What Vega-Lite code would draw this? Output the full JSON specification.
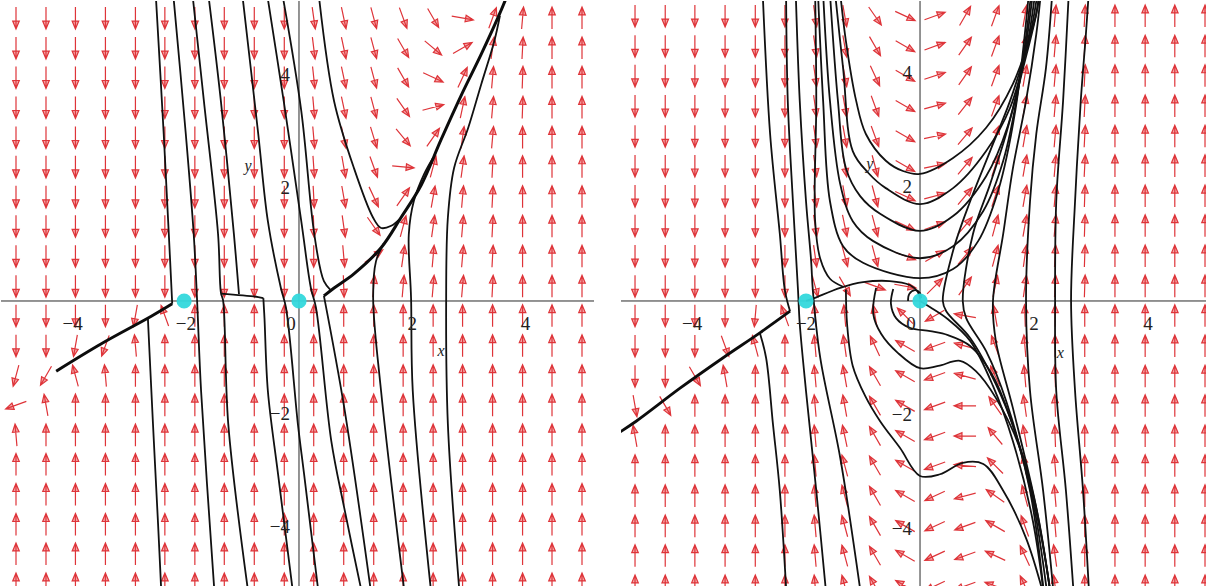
{
  "$schema": "https://vega.github.io/schema/vega-lite/v6.json",
  "padding": 0,
  "background": "white",
  "spacing": 25,
  "config": {"view": {"stroke": null}},
  "datasets": {
    "aL": [
      {"x":-5,"y":-5,"a":0},{"x":-5,"y":-4.47,"a":0},{"x":-5,"y":-3.95,"a":0},{"x":-5,"y":-3.42,"a":0},{"x":-5,"y":-2.89,"a":0},{"x":-5,"y":-2.37,"a":355},{"x":-5,"y":-1.84,"a":250},{"x":-5,"y":-1.32,"a":195},{"x":-5,"y":-0.79,"a":180},{"x":-5,"y":-0.26,"a":180},{"x":-5,"y":0.26,"a":180},{"x":-5,"y":0.79,"a":180},{"x":-5,"y":1.32,"a":180},{"x":-5,"y":1.84,"a":180},{"x":-5,"y":2.37,"a":180},{"x":-5,"y":2.89,"a":180},{"x":-5,"y":3.42,"a":180},{"x":-5,"y":3.95,"a":180},{"x":-5,"y":4.47,"a":180},{"x":-5,"y":5,"a":180},
      {"x":-4.47,"y":-5,"a":0},{"x":-4.47,"y":-4.47,"a":0},{"x":-4.47,"y":-3.95,"a":0},{"x":-4.47,"y":-3.42,"a":0},{"x":-4.47,"y":-2.89,"a":0},{"x":-4.47,"y":-2.37,"a":0},{"x":-4.47,"y":-1.84,"a":350},{"x":-4.47,"y":-1.32,"a":210},{"x":-4.47,"y":-0.79,"a":180},{"x":-4.47,"y":-0.26,"a":180},{"x":-4.47,"y":0.26,"a":180},{"x":-4.47,"y":0.79,"a":180},{"x":-4.47,"y":1.32,"a":180},{"x":-4.47,"y":1.84,"a":180},{"x":-4.47,"y":2.37,"a":180},{"x":-4.47,"y":2.89,"a":180},{"x":-4.47,"y":3.42,"a":180},{"x":-4.47,"y":3.95,"a":180},{"x":-4.47,"y":4.47,"a":180},{"x":-4.47,"y":5,"a":180},
      {"x":-3.95,"y":-5,"a":0},{"x":-3.95,"y":-4.47,"a":0},{"x":-3.95,"y":-3.95,"a":0},{"x":-3.95,"y":-3.42,"a":0},{"x":-3.95,"y":-2.89,"a":0},{"x":-3.95,"y":-2.37,"a":0},{"x":-3.95,"y":-1.84,"a":0},{"x":-3.95,"y":-1.32,"a":345},{"x":-3.95,"y":-0.79,"a":190},{"x":-3.95,"y":-0.26,"a":180},{"x":-3.95,"y":0.26,"a":180},{"x":-3.95,"y":0.79,"a":180},{"x":-3.95,"y":1.32,"a":180},{"x":-3.95,"y":1.84,"a":180},{"x":-3.95,"y":2.37,"a":180},{"x":-3.95,"y":2.89,"a":180},{"x":-3.95,"y":3.42,"a":180},{"x":-3.95,"y":3.95,"a":180},{"x":-3.95,"y":4.47,"a":180},{"x":-3.95,"y":5,"a":180},
      {"x":-3.42,"y":-5,"a":0},{"x":-3.42,"y":-4.47,"a":0},{"x":-3.42,"y":-3.95,"a":0},{"x":-3.42,"y":-3.42,"a":0},{"x":-3.42,"y":-2.89,"a":0},{"x":-3.42,"y":-2.37,"a":0},{"x":-3.42,"y":-1.84,"a":0},{"x":-3.42,"y":-1.32,"a":355},{"x":-3.42,"y":-0.79,"a":200},{"x":-3.42,"y":-0.26,"a":180},{"x":-3.42,"y":0.26,"a":180},{"x":-3.42,"y":0.79,"a":180},{"x":-3.42,"y":1.32,"a":180},{"x":-3.42,"y":1.84,"a":180},{"x":-3.42,"y":2.37,"a":180},{"x":-3.42,"y":2.89,"a":180},{"x":-3.42,"y":3.42,"a":180},{"x":-3.42,"y":3.95,"a":180},{"x":-3.42,"y":4.47,"a":180},{"x":-3.42,"y":5,"a":180},
      {"x":-2.89,"y":-5,"a":0},{"x":-2.89,"y":-4.47,"a":0},{"x":-2.89,"y":-3.95,"a":0},{"x":-2.89,"y":-3.42,"a":0},{"x":-2.89,"y":-2.89,"a":0},{"x":-2.89,"y":-2.37,"a":0},{"x":-2.89,"y":-1.84,"a":0},{"x":-2.89,"y":-1.32,"a":0},{"x":-2.89,"y":-0.79,"a":355},{"x":-2.89,"y":-0.26,"a":190},{"x":-2.89,"y":0.26,"a":180},{"x":-2.89,"y":0.79,"a":180},{"x":-2.89,"y":1.32,"a":180},{"x":-2.89,"y":1.84,"a":180},{"x":-2.89,"y":2.37,"a":180},{"x":-2.89,"y":2.89,"a":180},{"x":-2.89,"y":3.42,"a":180},{"x":-2.89,"y":3.95,"a":180},{"x":-2.89,"y":4.47,"a":180},{"x":-2.89,"y":5,"a":180},
      {"x":-2.37,"y":-5,"a":0},{"x":-2.37,"y":-4.47,"a":0},{"x":-2.37,"y":-3.95,"a":0},{"x":-2.37,"y":-3.42,"a":0},{"x":-2.37,"y":-2.89,"a":0},{"x":-2.37,"y":-2.37,"a":0},{"x":-2.37,"y":-1.84,"a":0},{"x":-2.37,"y":-1.32,"a":0},{"x":-2.37,"y":-0.79,"a":0},{"x":-2.37,"y":-0.26,"a":340},{"x":-2.37,"y":0.26,"a":180},{"x":-2.37,"y":0.79,"a":180},{"x":-2.37,"y":1.32,"a":180},{"x":-2.37,"y":1.84,"a":180},{"x":-2.37,"y":2.37,"a":180},{"x":-2.37,"y":2.89,"a":180},{"x":-2.37,"y":3.42,"a":180},{"x":-2.37,"y":3.95,"a":180},{"x":-2.37,"y":4.47,"a":180},{"x":-2.37,"y":5,"a":180},
      {"x":-1.84,"y":-5,"a":0},{"x":-1.84,"y":-4.47,"a":0},{"x":-1.84,"y":-3.95,"a":0},{"x":-1.84,"y":-3.42,"a":0},{"x":-1.84,"y":-2.89,"a":0},{"x":-1.84,"y":-2.37,"a":0},{"x":-1.84,"y":-1.84,"a":0},{"x":-1.84,"y":-1.32,"a":0},{"x":-1.84,"y":-0.79,"a":0},{"x":-1.84,"y":-0.26,"a":0},{"x":-1.84,"y":0.26,"a":180},{"x":-1.84,"y":0.79,"a":180},{"x":-1.84,"y":1.32,"a":180},{"x":-1.84,"y":1.84,"a":180},{"x":-1.84,"y":2.37,"a":180},{"x":-1.84,"y":2.89,"a":180},{"x":-1.84,"y":3.42,"a":180},{"x":-1.84,"y":3.95,"a":180},{"x":-1.84,"y":4.47,"a":180},{"x":-1.84,"y":5,"a":180},
      {"x":-1.32,"y":-5,"a":0},{"x":-1.32,"y":-4.47,"a":0},{"x":-1.32,"y":-3.95,"a":0},{"x":-1.32,"y":-3.42,"a":0},{"x":-1.32,"y":-2.89,"a":0},{"x":-1.32,"y":-2.37,"a":0},{"x":-1.32,"y":-1.84,"a":0},{"x":-1.32,"y":-1.32,"a":0},{"x":-1.32,"y":-0.79,"a":0},{"x":-1.32,"y":-0.26,"a":0},{"x":-1.32,"y":0.26,"a":180},{"x":-1.32,"y":0.79,"a":180},{"x":-1.32,"y":1.32,"a":180},{"x":-1.32,"y":1.84,"a":180},{"x":-1.32,"y":2.37,"a":180},{"x":-1.32,"y":2.89,"a":180},{"x":-1.32,"y":3.42,"a":180},{"x":-1.32,"y":3.95,"a":180},{"x":-1.32,"y":4.47,"a":180},{"x":-1.32,"y":5,"a":180},
      {"x":-0.79,"y":-5,"a":0},{"x":-0.79,"y":-4.47,"a":0},{"x":-0.79,"y":-3.95,"a":0},{"x":-0.79,"y":-3.42,"a":0},{"x":-0.79,"y":-2.89,"a":0},{"x":-0.79,"y":-2.37,"a":0},{"x":-0.79,"y":-1.84,"a":0},{"x":-0.79,"y":-1.32,"a":0},{"x":-0.79,"y":-0.79,"a":0},{"x":-0.79,"y":-0.26,"a":0},{"x":-0.79,"y":0.26,"a":180},{"x":-0.79,"y":0.79,"a":180},{"x":-0.79,"y":1.32,"a":180},{"x":-0.79,"y":1.84,"a":180},{"x":-0.79,"y":2.37,"a":180},{"x":-0.79,"y":2.89,"a":180},{"x":-0.79,"y":3.42,"a":180},{"x":-0.79,"y":3.95,"a":180},{"x":-0.79,"y":4.47,"a":180},{"x":-0.79,"y":5,"a":180},
      {"x":-0.26,"y":-5,"a":0},{"x":-0.26,"y":-4.47,"a":0},{"x":-0.26,"y":-3.95,"a":0},{"x":-0.26,"y":-3.42,"a":0},{"x":-0.26,"y":-2.89,"a":0},{"x":-0.26,"y":-2.37,"a":0},{"x":-0.26,"y":-1.84,"a":0},{"x":-0.26,"y":-1.32,"a":0},{"x":-0.26,"y":-0.79,"a":0},{"x":-0.26,"y":-0.26,"a":0},{"x":-0.26,"y":0.26,"a":180},{"x":-0.26,"y":0.79,"a":180},{"x":-0.26,"y":1.32,"a":180},{"x":-0.26,"y":1.84,"a":180},{"x":-0.26,"y":2.37,"a":180},{"x":-0.26,"y":2.89,"a":180},{"x":-0.26,"y":3.42,"a":180},{"x":-0.26,"y":3.95,"a":180},{"x":-0.26,"y":4.47,"a":180},{"x":-0.26,"y":5,"a":180},
      {"x":0.26,"y":-5,"a":0},{"x":0.26,"y":-4.47,"a":0},{"x":0.26,"y":-3.95,"a":0},{"x":0.26,"y":-3.42,"a":0},{"x":0.26,"y":-2.89,"a":0},{"x":0.26,"y":-2.37,"a":0},{"x":0.26,"y":-1.84,"a":0},{"x":0.26,"y":-1.32,"a":0},{"x":0.26,"y":-0.79,"a":0},{"x":0.26,"y":-0.26,"a":0},{"x":0.26,"y":0.26,"a":180},{"x":0.26,"y":0.79,"a":180},{"x":0.26,"y":1.32,"a":178},{"x":0.26,"y":1.84,"a":177},{"x":0.26,"y":2.37,"a":176},{"x":0.26,"y":2.89,"a":175},{"x":0.26,"y":3.42,"a":175},{"x":0.26,"y":3.95,"a":174},{"x":0.26,"y":4.47,"a":173},{"x":0.26,"y":5,"a":172},
      {"x":0.79,"y":-5,"a":0},{"x":0.79,"y":-4.47,"a":0},{"x":0.79,"y":-3.95,"a":0},{"x":0.79,"y":-3.42,"a":0},{"x":0.79,"y":-2.89,"a":0},{"x":0.79,"y":-2.37,"a":0},{"x":0.79,"y":-1.84,"a":0},{"x":0.79,"y":-1.32,"a":0},{"x":0.79,"y":-0.79,"a":0},{"x":0.79,"y":-0.26,"a":0},{"x":0.79,"y":0.26,"a":178},{"x":0.79,"y":0.79,"a":175},{"x":0.79,"y":1.32,"a":172},{"x":0.79,"y":1.84,"a":170},{"x":0.79,"y":2.37,"a":170},{"x":0.79,"y":2.89,"a":168},{"x":0.79,"y":3.42,"a":168},{"x":0.79,"y":3.95,"a":168},{"x":0.79,"y":4.47,"a":168},{"x":0.79,"y":5,"a":168},
      {"x":1.32,"y":-5,"a":0},{"x":1.32,"y":-4.47,"a":0},{"x":1.32,"y":-3.95,"a":0},{"x":1.32,"y":-3.42,"a":0},{"x":1.32,"y":-2.89,"a":0},{"x":1.32,"y":-2.37,"a":0},{"x":1.32,"y":-1.84,"a":0},{"x":1.32,"y":-1.32,"a":0},{"x":1.32,"y":-0.79,"a":0},{"x":1.32,"y":-0.26,"a":0},{"x":1.32,"y":0.26,"a":5},{"x":1.32,"y":0.79,"a":55},{"x":1.32,"y":1.32,"a":145},{"x":1.32,"y":1.84,"a":155},{"x":1.32,"y":2.37,"a":160},{"x":1.32,"y":2.89,"a":163},{"x":1.32,"y":3.42,"a":165},{"x":1.32,"y":3.95,"a":165},{"x":1.32,"y":4.47,"a":165},{"x":1.32,"y":5,"a":165},
      {"x":1.84,"y":-5,"a":0},{"x":1.84,"y":-4.47,"a":0},{"x":1.84,"y":-3.95,"a":0},{"x":1.84,"y":-3.42,"a":0},{"x":1.84,"y":-2.89,"a":0},{"x":1.84,"y":-2.37,"a":0},{"x":1.84,"y":-1.84,"a":0},{"x":1.84,"y":-1.32,"a":0},{"x":1.84,"y":-0.79,"a":0},{"x":1.84,"y":-0.26,"a":0},{"x":1.84,"y":0.26,"a":5},{"x":1.84,"y":0.79,"a":8},{"x":1.84,"y":1.32,"a":15},{"x":1.84,"y":1.84,"a":35},{"x":1.84,"y":2.37,"a":95},{"x":1.84,"y":2.89,"a":140},{"x":1.84,"y":3.42,"a":145},{"x":1.84,"y":3.95,"a":150},{"x":1.84,"y":4.47,"a":150},{"x":1.84,"y":5,"a":160},
      {"x":2.37,"y":-5,"a":0},{"x":2.37,"y":-4.47,"a":0},{"x":2.37,"y":-3.95,"a":0},{"x":2.37,"y":-3.42,"a":0},{"x":2.37,"y":-2.89,"a":0},{"x":2.37,"y":-2.37,"a":0},{"x":2.37,"y":-1.84,"a":0},{"x":2.37,"y":-1.32,"a":0},{"x":2.37,"y":-0.79,"a":0},{"x":2.37,"y":-0.26,"a":0},{"x":2.37,"y":0.26,"a":5},{"x":2.37,"y":0.79,"a":5},{"x":2.37,"y":1.32,"a":8},{"x":2.37,"y":1.84,"a":10},{"x":2.37,"y":2.37,"a":15},{"x":2.37,"y":2.89,"a":35},{"x":2.37,"y":3.42,"a":75},{"x":2.37,"y":3.95,"a":115},{"x":2.37,"y":4.47,"a":130},{"x":2.37,"y":5,"a":150},
      {"x":2.89,"y":-5,"a":0},{"x":2.89,"y":-4.47,"a":0},{"x":2.89,"y":-3.95,"a":0},{"x":2.89,"y":-3.42,"a":0},{"x":2.89,"y":-2.89,"a":0},{"x":2.89,"y":-2.37,"a":0},{"x":2.89,"y":-1.84,"a":0},{"x":2.89,"y":-1.32,"a":0},{"x":2.89,"y":-0.79,"a":0},{"x":2.89,"y":-0.26,"a":0},{"x":2.89,"y":0.26,"a":5},{"x":2.89,"y":0.79,"a":5},{"x":2.89,"y":1.32,"a":5},{"x":2.89,"y":1.84,"a":5},{"x":2.89,"y":2.37,"a":8},{"x":2.89,"y":2.89,"a":8},{"x":2.89,"y":3.42,"a":12},{"x":2.89,"y":3.95,"a":25},{"x":2.89,"y":4.47,"a":60},{"x":2.89,"y":5,"a":100},
      {"x":3.42,"y":-5,"a":0},{"x":3.42,"y":-4.47,"a":0},{"x":3.42,"y":-3.95,"a":0},{"x":3.42,"y":-3.42,"a":0},{"x":3.42,"y":-2.89,"a":0},{"x":3.42,"y":-2.37,"a":0},{"x":3.42,"y":-1.84,"a":0},{"x":3.42,"y":-1.32,"a":0},{"x":3.42,"y":-0.79,"a":0},{"x":3.42,"y":-0.26,"a":0},{"x":3.42,"y":0.26,"a":3},{"x":3.42,"y":0.79,"a":3},{"x":3.42,"y":1.32,"a":3},{"x":3.42,"y":1.84,"a":3},{"x":3.42,"y":2.37,"a":3},{"x":3.42,"y":2.89,"a":5},{"x":3.42,"y":3.42,"a":5},{"x":3.42,"y":3.95,"a":5},{"x":3.42,"y":4.47,"a":8},{"x":3.42,"y":5,"a":20},
      {"x":3.95,"y":-5,"a":0},{"x":3.95,"y":-4.47,"a":0},{"x":3.95,"y":-3.95,"a":0},{"x":3.95,"y":-3.42,"a":0},{"x":3.95,"y":-2.89,"a":0},{"x":3.95,"y":-2.37,"a":0},{"x":3.95,"y":-1.84,"a":0},{"x":3.95,"y":-1.32,"a":0},{"x":3.95,"y":-0.79,"a":0},{"x":3.95,"y":-0.26,"a":0},{"x":3.95,"y":0.26,"a":0},{"x":3.95,"y":0.79,"a":0},{"x":3.95,"y":1.32,"a":0},{"x":3.95,"y":1.84,"a":0},{"x":3.95,"y":2.37,"a":0},{"x":3.95,"y":2.89,"a":0},{"x":3.95,"y":3.42,"a":2},{"x":3.95,"y":3.95,"a":2},{"x":3.95,"y":4.47,"a":3},{"x":3.95,"y":5,"a":5},
      {"x":4.47,"y":-5,"a":0},{"x":4.47,"y":-4.47,"a":0},{"x":4.47,"y":-3.95,"a":0},{"x":4.47,"y":-3.42,"a":0},{"x":4.47,"y":-2.89,"a":0},{"x":4.47,"y":-2.37,"a":0},{"x":4.47,"y":-1.84,"a":0},{"x":4.47,"y":-1.32,"a":0},{"x":4.47,"y":-0.79,"a":0},{"x":4.47,"y":-0.26,"a":0},{"x":4.47,"y":0.26,"a":0},{"x":4.47,"y":0.79,"a":0},{"x":4.47,"y":1.32,"a":0},{"x":4.47,"y":1.84,"a":0},{"x":4.47,"y":2.37,"a":0},{"x":4.47,"y":2.89,"a":0},{"x":4.47,"y":3.42,"a":0},{"x":4.47,"y":3.95,"a":0},{"x":4.47,"y":4.47,"a":0},{"x":4.47,"y":5,"a":0},
      {"x":5,"y":-5,"a":0},{"x":5,"y":-4.47,"a":0},{"x":5,"y":-3.95,"a":0},{"x":5,"y":-3.42,"a":0},{"x":5,"y":-2.89,"a":0},{"x":5,"y":-2.37,"a":0},{"x":5,"y":-1.84,"a":0},{"x":5,"y":-1.32,"a":0},{"x":5,"y":-0.79,"a":0},{"x":5,"y":-0.26,"a":0},{"x":5,"y":0.26,"a":0},{"x":5,"y":0.79,"a":0},{"x":5,"y":1.32,"a":0},{"x":5,"y":1.84,"a":0},{"x":5,"y":2.37,"a":0},{"x":5,"y":2.89,"a":0},{"x":5,"y":3.42,"a":0},{"x":5,"y":3.95,"a":0},{"x":5,"y":4.47,"a":0},{"x":5,"y":5,"a":0}
    ],
    "aR": [
      {"x":-5,"y":-5,"a":0},{"x":-5,"y":-4.47,"a":0},{"x":-5,"y":-3.95,"a":0},{"x":-5,"y":-3.42,"a":0},{"x":-5,"y":-2.89,"a":0},{"x":-5,"y":-2.37,"a":350},{"x":-5,"y":-1.84,"a":170},{"x":-5,"y":-1.32,"a":180},{"x":-5,"y":-0.79,"a":180},{"x":-5,"y":-0.26,"a":180},{"x":-5,"y":0.26,"a":180},{"x":-5,"y":0.79,"a":180},{"x":-5,"y":1.32,"a":180},{"x":-5,"y":1.84,"a":180},{"x":-5,"y":2.37,"a":180},{"x":-5,"y":2.89,"a":180},{"x":-5,"y":3.42,"a":180},{"x":-5,"y":3.95,"a":180},{"x":-5,"y":4.47,"a":180},{"x":-5,"y":5,"a":180},
      {"x":-4.47,"y":-5,"a":0},{"x":-4.47,"y":-4.47,"a":0},{"x":-4.47,"y":-3.95,"a":0},{"x":-4.47,"y":-3.42,"a":0},{"x":-4.47,"y":-2.89,"a":0},{"x":-4.47,"y":-2.37,"a":0},{"x":-4.47,"y":-1.84,"a":150},{"x":-4.47,"y":-1.32,"a":180},{"x":-4.47,"y":-0.79,"a":180},{"x":-4.47,"y":-0.26,"a":180},{"x":-4.47,"y":0.26,"a":180},{"x":-4.47,"y":0.79,"a":180},{"x":-4.47,"y":1.32,"a":180},{"x":-4.47,"y":1.84,"a":180},{"x":-4.47,"y":2.37,"a":180},{"x":-4.47,"y":2.89,"a":180},{"x":-4.47,"y":3.42,"a":180},{"x":-4.47,"y":3.95,"a":180},{"x":-4.47,"y":4.47,"a":180},{"x":-4.47,"y":5,"a":180},
      {"x":-3.95,"y":-5,"a":0},{"x":-3.95,"y":-4.47,"a":0},{"x":-3.95,"y":-3.95,"a":0},{"x":-3.95,"y":-3.42,"a":0},{"x":-3.95,"y":-2.89,"a":0},{"x":-3.95,"y":-2.37,"a":0},{"x":-3.95,"y":-1.84,"a":0},{"x":-3.95,"y":-1.32,"a":150},{"x":-3.95,"y":-0.79,"a":180},{"x":-3.95,"y":-0.26,"a":180},{"x":-3.95,"y":0.26,"a":180},{"x":-3.95,"y":0.79,"a":180},{"x":-3.95,"y":1.32,"a":180},{"x":-3.95,"y":1.84,"a":180},{"x":-3.95,"y":2.37,"a":180},{"x":-3.95,"y":2.89,"a":180},{"x":-3.95,"y":3.42,"a":180},{"x":-3.95,"y":3.95,"a":180},{"x":-3.95,"y":4.47,"a":180},{"x":-3.95,"y":5,"a":180},
      {"x":-3.42,"y":-5,"a":0},{"x":-3.42,"y":-4.47,"a":0},{"x":-3.42,"y":-3.95,"a":0},{"x":-3.42,"y":-3.42,"a":0},{"x":-3.42,"y":-2.89,"a":0},{"x":-3.42,"y":-2.37,"a":0},{"x":-3.42,"y":-1.84,"a":0},{"x":-3.42,"y":-1.32,"a":350},{"x":-3.42,"y":-0.79,"a":160},{"x":-3.42,"y":-0.26,"a":180},{"x":-3.42,"y":0.26,"a":180},{"x":-3.42,"y":0.79,"a":180},{"x":-3.42,"y":1.32,"a":180},{"x":-3.42,"y":1.84,"a":180},{"x":-3.42,"y":2.37,"a":180},{"x":-3.42,"y":2.89,"a":180},{"x":-3.42,"y":3.42,"a":180},{"x":-3.42,"y":3.95,"a":180},{"x":-3.42,"y":4.47,"a":180},{"x":-3.42,"y":5,"a":180},
      {"x":-2.89,"y":-5,"a":0},{"x":-2.89,"y":-4.47,"a":0},{"x":-2.89,"y":-3.95,"a":0},{"x":-2.89,"y":-3.42,"a":0},{"x":-2.89,"y":-2.89,"a":0},{"x":-2.89,"y":-2.37,"a":0},{"x":-2.89,"y":-1.84,"a":0},{"x":-2.89,"y":-1.32,"a":0},{"x":-2.89,"y":-0.79,"a":345},{"x":-2.89,"y":-0.26,"a":185},{"x":-2.89,"y":0.26,"a":180},{"x":-2.89,"y":0.79,"a":180},{"x":-2.89,"y":1.32,"a":180},{"x":-2.89,"y":1.84,"a":180},{"x":-2.89,"y":2.37,"a":180},{"x":-2.89,"y":2.89,"a":180},{"x":-2.89,"y":3.42,"a":180},{"x":-2.89,"y":3.95,"a":180},{"x":-2.89,"y":4.47,"a":180},{"x":-2.89,"y":5,"a":180},
      {"x":-2.37,"y":-5,"a":0},{"x":-2.37,"y":-4.47,"a":0},{"x":-2.37,"y":-3.95,"a":0},{"x":-2.37,"y":-3.42,"a":0},{"x":-2.37,"y":-2.89,"a":0},{"x":-2.37,"y":-2.37,"a":0},{"x":-2.37,"y":-1.84,"a":0},{"x":-2.37,"y":-1.32,"a":0},{"x":-2.37,"y":-0.79,"a":0},{"x":-2.37,"y":-0.26,"a":340},{"x":-2.37,"y":0.26,"a":180},{"x":-2.37,"y":0.79,"a":180},{"x":-2.37,"y":1.32,"a":180},{"x":-2.37,"y":1.84,"a":180},{"x":-2.37,"y":2.37,"a":180},{"x":-2.37,"y":2.89,"a":180},{"x":-2.37,"y":3.42,"a":180},{"x":-2.37,"y":3.95,"a":180},{"x":-2.37,"y":4.47,"a":180},{"x":-2.37,"y":5,"a":180},
      {"x":-1.84,"y":-5,"a":355},{"x":-1.84,"y":-4.47,"a":355},{"x":-1.84,"y":-3.95,"a":355},{"x":-1.84,"y":-3.42,"a":355},{"x":-1.84,"y":-2.89,"a":355},{"x":-1.84,"y":-2.37,"a":355},{"x":-1.84,"y":-1.84,"a":355},{"x":-1.84,"y":-1.32,"a":355},{"x":-1.84,"y":-0.79,"a":355},{"x":-1.84,"y":-0.26,"a":355},{"x":-1.84,"y":0.26,"a":165},{"x":-1.84,"y":0.79,"a":172},{"x":-1.84,"y":1.32,"a":172},{"x":-1.84,"y":1.84,"a":172},{"x":-1.84,"y":2.37,"a":172},{"x":-1.84,"y":2.89,"a":172},{"x":-1.84,"y":3.42,"a":172},{"x":-1.84,"y":3.95,"a":172},{"x":-1.84,"y":4.47,"a":172},{"x":-1.84,"y":5,"a":172},
      {"x":-1.32,"y":-5,"a":345},{"x":-1.32,"y":-4.47,"a":345},{"x":-1.32,"y":-3.95,"a":345},{"x":-1.32,"y":-3.42,"a":345},{"x":-1.32,"y":-2.89,"a":345},{"x":-1.32,"y":-2.37,"a":348},{"x":-1.32,"y":-1.84,"a":350},{"x":-1.32,"y":-1.32,"a":350},{"x":-1.32,"y":-0.79,"a":352},{"x":-1.32,"y":-0.26,"a":355},{"x":-1.32,"y":0.26,"a":150},{"x":-1.32,"y":0.79,"a":165},{"x":-1.32,"y":1.32,"a":168},{"x":-1.32,"y":1.84,"a":170},{"x":-1.32,"y":2.37,"a":170},{"x":-1.32,"y":2.89,"a":170},{"x":-1.32,"y":3.42,"a":170},{"x":-1.32,"y":3.95,"a":170},{"x":-1.32,"y":4.47,"a":170},{"x":-1.32,"y":5,"a":170},
      {"x":-0.79,"y":-5,"a":330},{"x":-0.79,"y":-4.47,"a":330},{"x":-0.79,"y":-3.95,"a":330},{"x":-0.79,"y":-3.42,"a":330},{"x":-0.79,"y":-2.89,"a":330},{"x":-0.79,"y":-2.37,"a":330},{"x":-0.79,"y":-1.84,"a":330},{"x":-0.79,"y":-1.32,"a":330},{"x":-0.79,"y":-0.79,"a":335},{"x":-0.79,"y":-0.26,"a":350},{"x":-0.79,"y":0.26,"a":110},{"x":-0.79,"y":0.79,"a":165},{"x":-0.79,"y":1.32,"a":165},{"x":-0.79,"y":1.84,"a":165},{"x":-0.79,"y":2.37,"a":165},{"x":-0.79,"y":2.89,"a":160},{"x":-0.79,"y":3.42,"a":160},{"x":-0.79,"y":3.95,"a":155},{"x":-0.79,"y":4.47,"a":150},{"x":-0.79,"y":5,"a":145},
      {"x":-0.26,"y":-5,"a":300},{"x":-0.26,"y":-4.47,"a":300},{"x":-0.26,"y":-3.95,"a":300},{"x":-0.26,"y":-3.42,"a":300},{"x":-0.26,"y":-2.89,"a":300},{"x":-0.26,"y":-2.37,"a":300},{"x":-0.26,"y":-1.84,"a":300},{"x":-0.26,"y":-1.32,"a":300},{"x":-0.26,"y":-0.79,"a":300},{"x":-0.26,"y":-0.26,"a":315},{"x":-0.26,"y":0.26,"a":100},{"x":-0.26,"y":0.79,"a":110},{"x":-0.26,"y":1.32,"a":115},{"x":-0.26,"y":1.84,"a":115},{"x":-0.26,"y":2.37,"a":120},{"x":-0.26,"y":2.89,"a":120},{"x":-0.26,"y":3.42,"a":120},{"x":-0.26,"y":3.95,"a":120},{"x":-0.26,"y":4.47,"a":120},{"x":-0.26,"y":5,"a":115},
      {"x":0.26,"y":-5,"a":245},{"x":0.26,"y":-4.47,"a":245},{"x":0.26,"y":-3.95,"a":245},{"x":0.26,"y":-3.42,"a":245},{"x":0.26,"y":-2.89,"a":250},{"x":0.26,"y":-2.37,"a":250},{"x":0.26,"y":-1.84,"a":250},{"x":0.26,"y":-1.32,"a":250},{"x":0.26,"y":-0.79,"a":250},{"x":0.26,"y":-0.26,"a":240},{"x":0.26,"y":0.26,"a":45},{"x":0.26,"y":0.79,"a":60},{"x":0.26,"y":1.32,"a":70},{"x":0.26,"y":1.84,"a":75},{"x":0.26,"y":2.37,"a":78},{"x":0.26,"y":2.89,"a":78},{"x":0.26,"y":3.42,"a":75},{"x":0.26,"y":3.95,"a":72},{"x":0.26,"y":4.47,"a":70},{"x":0.26,"y":5,"a":70},
      {"x":0.79,"y":-5,"a":250},{"x":0.79,"y":-4.47,"a":250},{"x":0.79,"y":-3.95,"a":250},{"x":0.79,"y":-3.42,"a":255},{"x":0.79,"y":-2.89,"a":275},{"x":0.79,"y":-2.37,"a":270},{"x":0.79,"y":-1.84,"a":270},{"x":0.79,"y":-1.32,"a":285},{"x":0.79,"y":-0.79,"a":285},{"x":0.79,"y":-0.26,"a":280},{"x":0.79,"y":0.26,"a":35},{"x":0.79,"y":0.79,"a":40},{"x":0.79,"y":1.32,"a":40},{"x":0.79,"y":1.84,"a":40},{"x":0.79,"y":2.37,"a":40},{"x":0.79,"y":2.89,"a":40},{"x":0.79,"y":3.42,"a":38},{"x":0.79,"y":3.95,"a":35},{"x":0.79,"y":4.47,"a":35},{"x":0.79,"y":5,"a":30},
      {"x":1.32,"y":-5,"a":290},{"x":1.32,"y":-4.47,"a":295},{"x":1.32,"y":-3.95,"a":300},{"x":1.32,"y":-3.42,"a":305},{"x":1.32,"y":-2.89,"a":315},{"x":1.32,"y":-2.37,"a":320},{"x":1.32,"y":-1.84,"a":325},{"x":1.32,"y":-1.32,"a":335},{"x":1.32,"y":-0.79,"a":340},{"x":1.32,"y":-0.26,"a":350},{"x":1.32,"y":0.26,"a":12},{"x":1.32,"y":0.79,"a":15},{"x":1.32,"y":1.32,"a":15},{"x":1.32,"y":1.84,"a":18},{"x":1.32,"y":2.37,"a":18},{"x":1.32,"y":2.89,"a":20},{"x":1.32,"y":3.42,"a":20},{"x":1.32,"y":3.95,"a":20},{"x":1.32,"y":4.47,"a":20},{"x":1.32,"y":5,"a":20},
      {"x":1.84,"y":-5,"a":335},{"x":1.84,"y":-4.47,"a":335},{"x":1.84,"y":-3.95,"a":340},{"x":1.84,"y":-3.42,"a":345},{"x":1.84,"y":-2.89,"a":350},{"x":1.84,"y":-2.37,"a":350},{"x":1.84,"y":-1.84,"a":352},{"x":1.84,"y":-1.32,"a":355},{"x":1.84,"y":-0.79,"a":355},{"x":1.84,"y":-0.26,"a":358},{"x":1.84,"y":0.26,"a":8},{"x":1.84,"y":0.79,"a":8},{"x":1.84,"y":1.32,"a":10},{"x":1.84,"y":1.84,"a":10},{"x":1.84,"y":2.37,"a":10},{"x":1.84,"y":2.89,"a":10},{"x":1.84,"y":3.42,"a":10},{"x":1.84,"y":3.95,"a":10},{"x":1.84,"y":4.47,"a":10},{"x":1.84,"y":5,"a":10},
      {"x":2.37,"y":-5,"a":352},{"x":2.37,"y":-4.47,"a":352},{"x":2.37,"y":-3.95,"a":355},{"x":2.37,"y":-3.42,"a":355},{"x":2.37,"y":-2.89,"a":355},{"x":2.37,"y":-2.37,"a":358},{"x":2.37,"y":-1.84,"a":358},{"x":2.37,"y":-1.32,"a":358},{"x":2.37,"y":-0.79,"a":0},{"x":2.37,"y":-0.26,"a":0},{"x":2.37,"y":0.26,"a":3},{"x":2.37,"y":0.79,"a":3},{"x":2.37,"y":1.32,"a":5},{"x":2.37,"y":1.84,"a":5},{"x":2.37,"y":2.37,"a":5},{"x":2.37,"y":2.89,"a":5},{"x":2.37,"y":3.42,"a":5},{"x":2.37,"y":3.95,"a":5},{"x":2.37,"y":4.47,"a":5},{"x":2.37,"y":5,"a":5},
      {"x":2.89,"y":-5,"a":0},{"x":2.89,"y":-4.47,"a":0},{"x":2.89,"y":-3.95,"a":0},{"x":2.89,"y":-3.42,"a":0},{"x":2.89,"y":-2.89,"a":0},{"x":2.89,"y":-2.37,"a":0},{"x":2.89,"y":-1.84,"a":0},{"x":2.89,"y":-1.32,"a":0},{"x":2.89,"y":-0.79,"a":0},{"x":2.89,"y":-0.26,"a":0},{"x":2.89,"y":0.26,"a":2},{"x":2.89,"y":0.79,"a":2},{"x":2.89,"y":1.32,"a":2},{"x":2.89,"y":1.84,"a":2},{"x":2.89,"y":2.37,"a":3},{"x":2.89,"y":2.89,"a":3},{"x":2.89,"y":3.42,"a":3},{"x":2.89,"y":3.95,"a":3},{"x":2.89,"y":4.47,"a":3},{"x":2.89,"y":5,"a":3},
      {"x":3.42,"y":-5,"a":0},{"x":3.42,"y":-4.47,"a":0},{"x":3.42,"y":-3.95,"a":0},{"x":3.42,"y":-3.42,"a":0},{"x":3.42,"y":-2.89,"a":0},{"x":3.42,"y":-2.37,"a":0},{"x":3.42,"y":-1.84,"a":0},{"x":3.42,"y":-1.32,"a":0},{"x":3.42,"y":-0.79,"a":0},{"x":3.42,"y":-0.26,"a":0},{"x":3.42,"y":0.26,"a":0},{"x":3.42,"y":0.79,"a":0},{"x":3.42,"y":1.32,"a":0},{"x":3.42,"y":1.84,"a":0},{"x":3.42,"y":2.37,"a":0},{"x":3.42,"y":2.89,"a":0},{"x":3.42,"y":3.42,"a":0},{"x":3.42,"y":3.95,"a":0},{"x":3.42,"y":4.47,"a":0},{"x":3.42,"y":5,"a":0},
      {"x":3.95,"y":-5,"a":0},{"x":3.95,"y":-4.47,"a":0},{"x":3.95,"y":-3.95,"a":0},{"x":3.95,"y":-3.42,"a":0},{"x":3.95,"y":-2.89,"a":0},{"x":3.95,"y":-2.37,"a":0},{"x":3.95,"y":-1.84,"a":0},{"x":3.95,"y":-1.32,"a":0},{"x":3.95,"y":-0.79,"a":0},{"x":3.95,"y":-0.26,"a":0},{"x":3.95,"y":0.26,"a":0},{"x":3.95,"y":0.79,"a":0},{"x":3.95,"y":1.32,"a":0},{"x":3.95,"y":1.84,"a":0},{"x":3.95,"y":2.37,"a":0},{"x":3.95,"y":2.89,"a":0},{"x":3.95,"y":3.42,"a":0},{"x":3.95,"y":3.95,"a":0},{"x":3.95,"y":4.47,"a":0},{"x":3.95,"y":5,"a":0},
      {"x":4.47,"y":-5,"a":0},{"x":4.47,"y":-4.47,"a":0},{"x":4.47,"y":-3.95,"a":0},{"x":4.47,"y":-3.42,"a":0},{"x":4.47,"y":-2.89,"a":0},{"x":4.47,"y":-2.37,"a":0},{"x":4.47,"y":-1.84,"a":0},{"x":4.47,"y":-1.32,"a":0},{"x":4.47,"y":-0.79,"a":0},{"x":4.47,"y":-0.26,"a":0},{"x":4.47,"y":0.26,"a":0},{"x":4.47,"y":0.79,"a":0},{"x":4.47,"y":1.32,"a":0},{"x":4.47,"y":1.84,"a":0},{"x":4.47,"y":2.37,"a":0},{"x":4.47,"y":2.89,"a":0},{"x":4.47,"y":3.42,"a":0},{"x":4.47,"y":3.95,"a":0},{"x":4.47,"y":4.47,"a":0},{"x":4.47,"y":5,"a":0},
      {"x":5,"y":-5,"a":0},{"x":5,"y":-4.47,"a":0},{"x":5,"y":-3.95,"a":0},{"x":5,"y":-3.42,"a":0},{"x":5,"y":-2.89,"a":0},{"x":5,"y":-2.37,"a":0},{"x":5,"y":-1.84,"a":0},{"x":5,"y":-1.32,"a":0},{"x":5,"y":-0.79,"a":0},{"x":5,"y":-0.26,"a":0},{"x":5,"y":0.26,"a":0},{"x":5,"y":0.79,"a":0},{"x":5,"y":1.32,"a":0},{"x":5,"y":1.84,"a":0},{"x":5,"y":2.37,"a":0},{"x":5,"y":2.89,"a":0},{"x":5,"y":3.42,"a":0},{"x":5,"y":3.95,"a":0},{"x":5,"y":4.47,"a":0},{"x":5,"y":5,"a":0}
    ],
    "pL": [
      {"c":"C1a","x":-2.53,"y":5.4},{"c":"C1a","x":-2.39,"y":2.95},{"c":"C1a","x":-2.30,"y":1.18},{"c":"C1a","x":-2.24,"y":-0.05},
      {"c":"C1b","x":-2.24,"y":-0.05},{"c":"C1b","x":-2.61,"y":-0.27},{"c":"C1b","x":-3.50,"y":-0.76},{"c":"C1b","x":-4.29,"y":-1.24},
      {"c":"C2","x":-2.67,"y":-0.30},{"c":"C2","x":-2.58,"y":-2.17},{"c":"C2","x":-2.49,"y":-3.94},{"c":"C2","x":-2.43,"y":-5.2},
      {"c":"C3","x":-2.22,"y":5.4},{"c":"C3","x":-2.00,"y":2.95},{"c":"C3","x":-1.86,"y":1.18},{"c":"C3","x":-1.80,"y":0},{"c":"C3","x":-1.73,"y":-1.59},{"c":"C3","x":-1.49,"y":-5.2},
      {"c":"Cc","x":-1.88,"y":5.4},{"c":"Cc","x":-1.68,"y":3.53},{"c":"Cc","x":-1.43,"y":1.18},{"c":"Cc","x":-1.38,"y":0.15},{"c":"Cc","x":-1.34,"y":0},{"c":"Cc","x":-1.25,"y":-2.17},{"c":"Cc","x":-0.89,"y":-5.2},
      {"c":"Cd","x":-1.60,"y":5.4},{"c":"Cd","x":-1.38,"y":3.53},{"c":"Cd","x":-1.15,"y":1.18},{"c":"Cd","x":-1.06,"y":0.12},
      {"c":"Hh","x":-1.38,"y":0.13},{"c":"Hh","x":-0.72,"y":0.07},{"c":"Hh","x":-0.63,"y":0.05},
      {"c":"Hv","x":-0.63,"y":0.05},{"c":"Hv","x":-0.61,"y":-0.3},{"c":"Hv","x":-0.55,"y":-1.59},{"c":"Hv","x":-0.37,"y":-3.06},{"c":"Hv","x":-0.1,"y":-5.2},
      {"c":"E","x":-1.0,"y":5.4},{"c":"E","x":-0.72,"y":2.95},{"c":"E","x":-0.55,"y":1.41},{"c":"E","x":-0.32,"y":0.23},{"c":"E","x":-0.23,"y":-0.12},{"c":"E","x":-0.02,"y":-2.17},{"c":"E","x":0.09,"y":-3.06},{"c":"E","x":0.35,"y":-5.2},
      {"c":"F","x":-0.56,"y":5.4},{"c":"F","x":-0.27,"y":3.53},{"c":"F","x":0.04,"y":1.41},{"c":"F","x":0.21,"y":0.23},{"c":"F","x":0.30,"y":-0.12},{"c":"F","x":0.57,"y":-2.47},{"c":"F","x":0.80,"y":-3.66},{"c":"F","x":1.12,"y":-5.2},
      {"c":"G","x":-0.29,"y":5.4},{"c":"G","x":0.04,"y":3.36},{"c":"G","x":0.27,"y":1.18},{"c":"G","x":0.44,"y":0.35},{"c":"G","x":0.57,"y":0.18},
      {"c":"Gb","x":0.44,"y":0.09},{"c":"Gb","x":0.80,"y":-1.89},{"c":"Gb","x":1.28,"y":-5.2},
      {"c":"T","x":0.44,"y":0.09},{"c":"T","x":0.62,"y":0.23},{"c":"T","x":0.97,"y":0.48},{"c":"T","x":1.45,"y":0.94},{"c":"T","x":1.80,"y":1.47},{"c":"T","x":2.16,"y":2.05},{"c":"T","x":2.51,"y":2.85},{"c":"T","x":2.86,"y":3.62},{"c":"T","x":3.22,"y":4.36},{"c":"T","x":3.53,"y":5.04},{"c":"T","x":3.68,"y":5.4},
      {"c":"U","x":0.35,"y":5.4},{"c":"U","x":0.62,"y":3.53},{"c":"U","x":0.97,"y":2.35},{"c":"U","x":1.31,"y":1.47},{"c":"U","x":1.45,"y":1.29},{"c":"U","x":1.63,"y":1.33},{"c":"U","x":1.80,"y":1.47},
      {"c":"R1","x":1.87,"y":-5.2},{"c":"R1","x":1.45,"y":-1.59},{"c":"R1","x":1.31,"y":0.05},{"c":"R1","x":1.36,"y":0.7},{"c":"R1","x":1.50,"y":1.02},
      {"c":"R2","x":2.34,"y":-5.2},{"c":"R2","x":2.01,"y":-1.59},{"c":"R2","x":1.98,"y":0.05},{"c":"R2","x":1.94,"y":1.18},{"c":"R2","x":2.03,"y":1.77},{"c":"R2","x":2.21,"y":2.24},{"c":"R2","x":2.37,"y":2.53},
      {"c":"R3","x":2.84,"y":-5.2},{"c":"R3","x":2.63,"y":-2.17},{"c":"R3","x":2.60,"y":0.05},{"c":"R3","x":2.63,"y":1.47},{"c":"R3","x":2.74,"y":2.35},{"c":"R3","x":2.99,"y":3.06},{"c":"R3","x":3.22,"y":3.83},{"c":"R3","x":3.45,"y":4.59},{"c":"R3","x":3.55,"y":5.04}
    ],
    "pR": [
      {"c":"La","x":-2.76,"y":5.4},{"c":"La","x":-2.63,"y":2.93},{"c":"La","x":-2.46,"y":1.18},{"c":"La","x":-2.37,"y":0.18},{"c":"La","x":-2.28,"y":-0.18},
      {"c":"LL","x":-2.28,"y":-0.18},{"c":"LL","x":-2.81,"y":-0.56},{"c":"LL","x":-3.46,"y":-1.0},{"c":"LL","x":-4.21,"y":-1.53},{"c":"LL","x":-4.98,"y":-2.11},{"c":"LL","x":-5.3,"y":-2.32},
      {"c":"D1","x":-2.81,"y":-0.56},{"c":"D1","x":-2.70,"y":-1.0},{"c":"D1","x":-2.58,"y":-2.16},{"c":"D1","x":-2.46,"y":-3.33},{"c":"D1","x":-2.34,"y":-5.2},
      {"c":"D2","x":-2.35,"y":5.4},{"c":"D2","x":-2.32,"y":3.51},{"c":"D2","x":-2.23,"y":1.75},{"c":"D2","x":-2.14,"y":0.18},{"c":"D2","x":-2.11,"y":-0.40},{"c":"D2","x":-2.0,"y":-1.58},{"c":"D2","x":-1.82,"y":-3.33},{"c":"D2","x":-1.64,"y":-5.2},
      {"c":"D3","x":-2.18,"y":5.4},{"c":"D3","x":-2.11,"y":3.51},{"c":"D3","x":-2.0,"y":1.75},{"c":"D3","x":-1.91,"y":0.70},{"c":"D3","x":-1.88,"y":0.18},{"c":"D3","x":-1.75,"y":-1.0},{"c":"D3","x":-1.40,"y":-2.75},{"c":"D3","x":-1.03,"y":-5.2},
      {"c":"D4","x":-1.84,"y":5.4},{"c":"D4","x":-1.82,"y":3.51},{"c":"D4","x":-1.84,"y":1.40},{"c":"D4","x":-1.75,"y":0.74},{"c":"D4","x":-1.58,"y":0.39},{"c":"D4","x":-1.35,"y":0.25},
      {"c":"H","x":-2.0,"y":0},{"c":"H","x":-1.88,"y":0.04},{"c":"H","x":-1.40,"y":0.23},{"c":"H","x":-1.0,"y":0.33},{"c":"H","x":-0.53,"y":0.35},{"c":"H","x":-0.18,"y":0.28},{"c":"H","x":-0.04,"y":0.16},{"c":"H","x":0,"y":0.04},
      {"c":"U1","x":-1.40,"y":5.4},{"c":"U1","x":-1.30,"y":4.56},{"c":"U1","x":-1.12,"y":3.51},{"c":"U1","x":-0.95,"y":2.93},{"c":"U1","x":-0.60,"y":2.46},{"c":"U1","x":-0.30,"y":2.28},{"c":"U1","x":0,"y":2.23},{"c":"U1","x":0.58,"y":2.51},{"c":"U1","x":1.16,"y":3.04},{"c":"U1","x":1.63,"y":3.81},{"c":"U1","x":1.93,"y":4.68},{"c":"U1","x":2.06,"y":5.4},
      {"c":"U2","x":-1.49,"y":5.4},{"c":"U2","x":-1.35,"y":4.09},{"c":"U2","x":-1.18,"y":2.63},{"c":"U2","x":-0.91,"y":2.25},{"c":"U2","x":-0.60,"y":1.98},{"c":"U2","x":0,"y":1.70},{"c":"U2","x":0.58,"y":1.98},{"c":"U2","x":1.16,"y":2.63},{"c":"U2","x":1.58,"y":3.39},{"c":"U2","x":1.86,"y":4.39},{"c":"U2","x":2.02,"y":5.4},
      {"c":"U3","x":-1.58,"y":5.4},{"c":"U3","x":-1.44,"y":3.51},{"c":"U3","x":-1.30,"y":2.33},{"c":"U3","x":-1.05,"y":1.84},{"c":"U3","x":-0.70,"y":1.53},{"c":"U3","x":0,"y":1.23},{"c":"U3","x":0.58,"y":1.49},{"c":"U3","x":1.16,"y":2.19},{"c":"U3","x":1.54,"y":3.07},{"c":"U3","x":1.81,"y":4.21},{"c":"U3","x":1.98,"y":5.4},
      {"c":"U4","x":-1.70,"y":5.4},{"c":"U4","x":-1.58,"y":3.51},{"c":"U4","x":-1.40,"y":2.05},{"c":"U4","x":-1.18,"y":1.40},{"c":"U4","x":-0.82,"y":1.05},{"c":"U4","x":0,"y":0.75},{"c":"U4","x":0.58,"y":0.96},{"c":"U4","x":1.11,"y":1.58},{"c":"U4","x":1.46,"y":2.46},{"c":"U4","x":1.75,"y":3.86},{"c":"U4","x":1.95,"y":5.4},
      {"c":"U5","x":-1.79,"y":5.4},{"c":"U5","x":-1.70,"y":3.51},{"c":"U5","x":-1.58,"y":1.75},{"c":"U5","x":-1.35,"y":0.96},{"c":"U5","x":-1.0,"y":0.67},{"c":"U5","x":0,"y":0.40},{"c":"U5","x":0.58,"y":0.56},{"c":"U5","x":1.02,"y":1.05},{"c":"U5","x":1.37,"y":1.93},{"c":"U5","x":1.67,"y":3.33},{"c":"U5","x":1.91,"y":5.4},
      {"c":"V1","x":2.30,"y":-5.2},{"c":"V1","x":2.04,"y":-3.63},{"c":"V1","x":1.68,"y":-2.33},{"c":"V1","x":1.33,"y":-1.46},{"c":"V1","x":0.88,"y":-0.65},{"c":"V1","x":0.46,"y":-0.18},{"c":"V1","x":0.40,"y":0},{"c":"V1","x":0.58,"y":0.88},{"c":"V1","x":0.88,"y":1.75},{"c":"V1","x":1.23,"y":2.63},{"c":"V1","x":1.58,"y":3.51},{"c":"V1","x":1.86,"y":4.39},{"c":"V1","x":2.04,"y":5.04},{"c":"V1","x":2.1,"y":5.4},
      {"c":"V2","x":2.18,"y":-5.2},{"c":"V2","x":1.93,"y":-3.33},{"c":"V2","x":1.51,"y":-1.75},{"c":"V2","x":1.16,"y":-0.88},{"c":"V2","x":0.81,"y":-0.30},{"c":"V2","x":0.75,"y":0},{"c":"V2","x":0.93,"y":1.18},{"c":"V2","x":1.23,"y":2.05},{"c":"V2","x":1.51,"y":2.93},{"c":"V2","x":1.81,"y":4.09},{"c":"V2","x":2.04,"y":5.04},{"c":"V2","x":2.09,"y":5.4},
      {"c":"V3","x":2.30,"y":-5.2},{"c":"V3","x":2.04,"y":-3.63},{"c":"V3","x":1.63,"y":-1.88},{"c":"V3","x":1.33,"y":-0.70},{"c":"V3","x":1.28,"y":0},{"c":"V3","x":1.46,"y":1.18},{"c":"V3","x":1.63,"y":2.33},{"c":"V3","x":1.86,"y":3.51},{"c":"V3","x":2.04,"y":4.68},{"c":"V3","x":2.12,"y":5.4},
      {"c":"V4","x":2.35,"y":-5.2},{"c":"V4","x":2.16,"y":-3.33},{"c":"V4","x":1.93,"y":-1.58},{"c":"V4","x":1.86,"y":0},{"c":"V4","x":1.93,"y":1.75},{"c":"V4","x":2.04,"y":2.93},{"c":"V4","x":2.21,"y":4.09},{"c":"V4","x":2.32,"y":5.4},
      {"c":"V5","x":2.70,"y":-5.2},{"c":"V5","x":2.56,"y":-3.33},{"c":"V5","x":2.39,"y":-1.58},{"c":"V5","x":2.37,"y":0},{"c":"V5","x":2.39,"y":1.75},{"c":"V5","x":2.51,"y":3.51},{"c":"V5","x":2.61,"y":5.4},
      {"c":"V6","x":2.97,"y":-5.2},{"c":"V6","x":2.86,"y":-3.33},{"c":"V6","x":2.72,"y":-1.58},{"c":"V6","x":2.65,"y":0},{"c":"V6","x":2.72,"y":1.75},{"c":"V6","x":2.82,"y":3.51},{"c":"V6","x":2.91,"y":4.68},{"c":"V6","x":2.96,"y":5.4},
      {"c":"SA","x":-0.77,"y":0.23},{"c":"SA","x":-0.82,"y":-0.23},{"c":"SA","x":-0.68,"y":-0.58},{"c":"SA","x":-0.39,"y":-0.91},{"c":"SA","x":0,"y":-1.18},{"c":"SA","x":0.32,"y":-1.14},{"c":"SA","x":0.70,"y":-1.05},{"c":"SA","x":0.98,"y":-1.23},{"c":"SA","x":1.33,"y":-1.70},{"c":"SA","x":1.75,"y":-2.58},{"c":"SA","x":2.11,"y":-4.04},{"c":"SA","x":2.30,"y":-5.2},
      {"c":"SB","x":-1.30,"y":0.20},{"c":"SB","x":-1.28,"y":-0.40},{"c":"SB","x":-1.18,"y":-1.14},{"c":"SB","x":-0.96,"y":-1.67},{"c":"SB","x":-0.70,"y":-2.11},{"c":"SB","x":-0.35,"y":-2.58},{"c":"SB","x":0,"y":-3.07},{"c":"SB","x":0.35,"y":-3.04},{"c":"SB","x":0.75,"y":-2.84},{"c":"SB","x":1.11,"y":-2.86},{"c":"SB","x":1.46,"y":-3.33},{"c":"SB","x":1.86,"y":-4.16},{"c":"SB","x":2.18,"y":-5.2},
      {"c":"SC","x":-0.47,"y":0.21},{"c":"SC","x":-0.51,"y":-0.05},{"c":"SC","x":-0.42,"y":-0.30},{"c":"SC","x":-0.18,"y":-0.47},{"c":"SC","x":0.18,"y":-0.53},{"c":"SC","x":0.49,"y":-0.60},{"c":"SC","x":0.88,"y":-0.79},{"c":"SC","x":1.28,"y":-1.32},{"c":"SC","x":1.63,"y":-2.19},{"c":"SC","x":1.98,"y":-3.51},{"c":"SC","x":2.24,"y":-5.2},
      {"c":"SK","x":-0.21,"y":0},{"c":"SK","x":-0.19,"y":0.12},{"c":"SK","x":-0.09,"y":0.19},{"c":"SK","x":0,"y":0.14},{"c":"SK","x":0.02,"y":0.05},
      {"c":"S1","x":0,"y":0},{"c":"S1","x":0.18,"y":-0.11},{"c":"S1","x":0.49,"y":-0.32},{"c":"S1","x":0.88,"y":-0.70},{"c":"S1","x":1.28,"y":-1.49},{"c":"S1","x":1.63,"y":-2.46},{"c":"S1","x":1.98,"y":-3.86},{"c":"S1","x":2.18,"y":-5.2}
    ],
    "eqL": [{"x":-2.03,"y":0},{"x":0,"y":0}],
    "eqR": [{"x":-2,"y":0},{"x":0,"y":0}],
    "xlab": [{"v":-4,"t":"−4"},{"v":-2,"t":"−2"},{"v":2,"t":"2"},{"v":4,"t":"4"}],
    "ylab": [{"v":4,"t":"4"},{"v":2,"t":"2"},{"v":-2,"t":"−2"},{"v":-4,"t":"−4"}],
    "zero": [{"v":0,"t":"0"}],
    "namesL": [{"x":-0.9,"y":2.39,"t":"y"},{"x":2.51,"y":-0.88,"t":"x"}],
    "namesR": [{"x":-0.88,"y":2.4,"t":"y"},{"x":2.46,"y":-0.91,"t":"x"}]
  },
  "hconcat": [
    {
      "width": 593,
      "height": 586,
      "layer": [
        {
          "data": {"name": "aL"},
          "mark": {"type": "point", "shape": "M0,1L0,-1M-0.3,-0.28L0,-1L0.3,-0.28Z", "size": 484, "filled": true, "fill": "#f4a6a8", "stroke": "#de3439", "strokeWidth": 1.2, "opacity": 1, "clip": true},
          "encoding": {
            "x": {"field": "x", "type": "quantitative", "scale": {"domain": [-5.265, 5.212], "nice": false, "zero": false}, "axis": null},
            "y": {"field": "y", "type": "quantitative", "scale": {"domain": [-5.053, 5.3], "nice": false, "zero": false}, "axis": null},
            "angle": {"field": "a", "type": "quantitative", "scale": null}
          }
        },
        {
          "data": {"values": [{"v": 0}]},
          "mark": {"type": "rule", "color": "#2a2a2a", "strokeWidth": 1},
          "encoding": {"x": {"field": "v", "type": "quantitative"}}
        },
        {
          "data": {"values": [{"v": 0}]},
          "mark": {"type": "rule", "color": "#2a2a2a", "strokeWidth": 1},
          "encoding": {"y": {"field": "v", "type": "quantitative"}}
        },
        {
          "data": {"name": "pL"},
          "transform": [{"filter": "datum.c != 'T' && datum.c != 'C1b'"}],
          "mark": {"type": "line", "interpolate": "catmull-rom", "color": "#111111", "strokeWidth": 1.8, "clip": true},
          "encoding": {
            "x": {"field": "x", "type": "quantitative"},
            "y": {"field": "y", "type": "quantitative"},
            "detail": {"field": "c"},
            "order": {"value": null}
          }
        },
        {
          "data": {"name": "pL"},
          "transform": [{"filter": "datum.c == 'T' || datum.c == 'C1b'"}],
          "mark": {"type": "line", "interpolate": "catmull-rom", "color": "#0c0c0c", "strokeWidth": 3, "clip": true},
          "encoding": {
            "x": {"field": "x", "type": "quantitative"},
            "y": {"field": "y", "type": "quantitative"},
            "detail": {"field": "c"},
            "order": {"value": null}
          }
        },
        {
          "data": {"name": "eqL"},
          "mark": {"type": "circle", "size": 230, "color": "#33d8dc", "opacity": 0.95},
          "encoding": {"x": {"field": "x", "type": "quantitative"}, "y": {"field": "y", "type": "quantitative"}}
        },
        {
          "data": {"name": "xlab"},
          "mark": {"type": "text", "dy": 23, "font": "Liberation Serif", "fontSize": 19, "color": "#222222"},
          "encoding": {"x": {"field": "v", "type": "quantitative"}, "y": {"datum": 0, "type": "quantitative"}, "text": {"field": "t"}}
        },
        {
          "data": {"name": "zero"},
          "mark": {"type": "text", "dy": 23, "dx": -8, "font": "Liberation Serif", "fontSize": 19, "color": "#222222"},
          "encoding": {"x": {"field": "v", "type": "quantitative"}, "y": {"datum": 0, "type": "quantitative"}, "text": {"field": "t"}}
        },
        {
          "data": {"name": "ylab"},
          "mark": {"type": "text", "align": "right", "dx": -9, "font": "Liberation Serif", "fontSize": 19, "color": "#222222"},
          "encoding": {"x": {"datum": 0, "type": "quantitative"}, "y": {"field": "v", "type": "quantitative"}, "text": {"field": "t"}}
        },
        {
          "data": {"name": "namesL"},
          "mark": {"type": "text", "font": "Liberation Serif", "fontStyle": "italic", "fontSize": 16, "color": "#222222"},
          "encoding": {"x": {"field": "x", "type": "quantitative"}, "y": {"field": "y", "type": "quantitative"}, "text": {"field": "t"}}
        }
      ]
    },
    {
      "width": 588,
      "height": 586,
      "layer": [
        {
          "data": {"name": "aR"},
          "mark": {"type": "point", "shape": "M0,1L0,-1M-0.3,-0.28L0,-1L0.3,-0.28Z", "size": 484, "filled": true, "fill": "#f4a6a8", "stroke": "#de3439", "strokeWidth": 1.2, "opacity": 1, "clip": true},
          "encoding": {
            "x": {"field": "x", "type": "quantitative", "scale": {"domain": [-5.246, 5.07], "nice": false, "zero": false}, "axis": null},
            "y": {"field": "y", "type": "quantitative", "scale": {"domain": [-5.018, 5.263], "nice": false, "zero": false}, "axis": null},
            "angle": {"field": "a", "type": "quantitative", "scale": null}
          }
        },
        {
          "data": {"values": [{"v": 0}]},
          "mark": {"type": "rule", "color": "#2a2a2a", "strokeWidth": 1},
          "encoding": {"x": {"field": "v", "type": "quantitative"}}
        },
        {
          "data": {"values": [{"v": 0}]},
          "mark": {"type": "rule", "color": "#2a2a2a", "strokeWidth": 1},
          "encoding": {"y": {"field": "v", "type": "quantitative"}}
        },
        {
          "data": {"name": "pR"},
          "transform": [{"filter": "datum.c != 'LL'"}],
          "mark": {"type": "line", "interpolate": "catmull-rom", "color": "#111111", "strokeWidth": 1.8, "clip": true},
          "encoding": {
            "x": {"field": "x", "type": "quantitative"},
            "y": {"field": "y", "type": "quantitative"},
            "detail": {"field": "c"},
            "order": {"value": null}
          }
        },
        {
          "data": {"name": "pR"},
          "transform": [{"filter": "datum.c == 'LL'"}],
          "mark": {"type": "line", "interpolate": "catmull-rom", "color": "#0c0c0c", "strokeWidth": 2.8, "clip": true},
          "encoding": {
            "x": {"field": "x", "type": "quantitative"},
            "y": {"field": "y", "type": "quantitative"},
            "detail": {"field": "c"},
            "order": {"value": null}
          }
        },
        {
          "data": {"name": "eqR"},
          "mark": {"type": "circle", "size": 230, "color": "#33d8dc", "opacity": 0.95},
          "encoding": {"x": {"field": "x", "type": "quantitative"}, "y": {"field": "y", "type": "quantitative"}}
        },
        {
          "data": {"name": "xlab"},
          "mark": {"type": "text", "dy": 23, "font": "Liberation Serif", "fontSize": 19, "color": "#222222"},
          "encoding": {"x": {"field": "v", "type": "quantitative"}, "y": {"datum": 0, "type": "quantitative"}, "text": {"field": "t"}}
        },
        {
          "data": {"name": "zero"},
          "mark": {"type": "text", "dy": 23, "dx": -9, "font": "Liberation Serif", "fontSize": 19, "color": "#222222"},
          "encoding": {"x": {"field": "v", "type": "quantitative"}, "y": {"datum": 0, "type": "quantitative"}, "text": {"field": "t"}}
        },
        {
          "data": {"name": "ylab"},
          "mark": {"type": "text", "align": "right", "dx": -8, "font": "Liberation Serif", "fontSize": 19, "color": "#222222"},
          "encoding": {"x": {"datum": 0, "type": "quantitative"}, "y": {"field": "v", "type": "quantitative"}, "text": {"field": "t"}}
        },
        {
          "data": {"name": "namesR"},
          "mark": {"type": "text", "font": "Liberation Serif", "fontStyle": "italic", "fontSize": 16, "color": "#222222"},
          "encoding": {"x": {"field": "x", "type": "quantitative"}, "y": {"field": "y", "type": "quantitative"}, "text": {"field": "t"}}
        }
      ]
    }
  ]
}
